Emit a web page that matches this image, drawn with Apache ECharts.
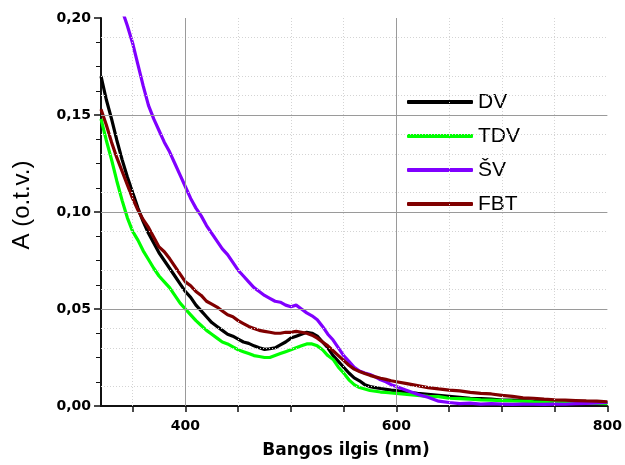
<!DOCTYPE html>
<html>
<head>
<meta charset="utf-8">
<script src="https://cdn.jsdelivr.net/npm/echarts@6/dist/echarts.min.js"></script>
<style>html,body{margin:0;padding:0;background:#fff;}#c{width:625px;height:465px;}</style>
</head>
<body>
<div id="c"></div>
<script>
// Wavelength (nm)
const wavelength = [320,325,330,335,340,345,350,355,360,365,370,375,380,385,390,395,400,405,410,415,420,425,430,435,440,445,450,455,460,465,470,475,480,485,490,495,500,505,510,515,520,525,530,535,540,545,550,555,560,565,570,575,580,585,590,595,600,610,620,630,640,650,660,670,680,690,700,710,720,730,740,750,760,770,780,790,800];
const seriesNames = ['DV','TDV','ŠV','FBT'];
const dv  = [0.170,0.158,0.148,0.137,0.127,0.118,0.110,0.102,0.095,0.089,0.084,0.079,0.075,0.071,0.067,0.063,0.059,0.056,0.052,0.049,0.046,0.043,0.041,0.039,0.037,0.036,0.0345,0.033,0.0323,0.031,0.030,0.0292,0.0295,0.030,0.0315,0.033,0.035,0.036,0.037,0.038,0.0375,0.036,0.033,0.030,0.026,0.023,0.020,0.017,0.0145,0.013,0.011,0.010,0.0095,0.009,0.0086,0.0082,0.0079,0.0072,0.0065,0.006,0.0055,0.005,0.0045,0.004,0.0038,0.0035,0.003,0.003,0.0028,0.0025,0.0025,0.0022,0.002,0.0022,0.002,0.0018,0.0018];
const tdv = [0.148,0.137,0.127,0.116,0.106,0.097,0.090,0.0855,0.080,0.0755,0.071,0.067,0.064,0.061,0.057,0.053,0.050,0.047,0.044,0.0415,0.039,0.037,0.035,0.033,0.032,0.0305,0.029,0.028,0.027,0.026,0.0255,0.025,0.025,0.026,0.027,0.028,0.029,0.030,0.031,0.032,0.032,0.031,0.029,0.026,0.024,0.020,0.017,0.0135,0.011,0.0095,0.0088,0.008,0.0076,0.0072,0.007,0.0067,0.0065,0.006,0.0055,0.005,0.0048,0.004,0.0038,0.0035,0.0032,0.003,0.0028,0.0026,0.0025,0.0022,0.002,0.002,0.0018,0.0016,0.0015,0.0014,0.0012];
const sv  = [0.245,0.234,0.223,0.213,0.204,0.196,0.187,0.176,0.165,0.155,0.148,0.142,0.136,0.131,0.125,0.119,0.113,0.107,0.102,0.098,0.093,0.089,0.085,0.081,0.078,0.074,0.070,0.067,0.064,0.061,0.059,0.057,0.0555,0.054,0.0535,0.052,0.0512,0.052,0.050,0.048,0.0465,0.0445,0.041,0.037,0.034,0.030,0.026,0.023,0.020,0.018,0.017,0.0162,0.015,0.0135,0.0125,0.011,0.010,0.008,0.006,0.0045,0.0025,0.0018,0.0012,0.0015,0.001,0.0012,0.001,0.0008,0.001,0.0009,0.0008,0.001,0.0009,0.0012,0.0014,0.0016,0.0018];
const fbt = [0.153,0.145,0.136,0.128,0.121,0.114,0.107,0.101,0.096,0.092,0.087,0.082,0.0795,0.076,0.072,0.068,0.064,0.062,0.059,0.057,0.054,0.0525,0.051,0.049,0.047,0.046,0.044,0.0425,0.041,0.040,0.039,0.0385,0.038,0.0375,0.0375,0.038,0.038,0.0385,0.038,0.0375,0.0365,0.035,0.033,0.031,0.0285,0.026,0.0235,0.021,0.019,0.0178,0.0168,0.0158,0.015,0.0143,0.0137,0.013,0.0125,0.0115,0.0105,0.0095,0.0088,0.0082,0.0078,0.007,0.0065,0.0062,0.0055,0.005,0.0042,0.004,0.0035,0.0032,0.003,0.0028,0.0026,0.0025,0.0022];
const seriesColors = ['#000000','#00ff00','#8000ff','#800000'];
// Axis ticks / labels
const xTickValues = [350,400,450,500,550,600,650,700,750,800];
const xLabelValues = [400,600,800];
const xMajorGrid = [400,600];
const xMinorGrid = [350,450,500,550,650,700,750];
const yMajorGrid = [0.05,0.10,0.15];
const yMinorGrid = [0.0125,0.025,0.0375,0.0625,0.075,0.0875,0.1125,0.125,0.1375,0.1625,0.175,0.1875];

const chart = echarts.init(document.getElementById('c'), null, {renderer:'canvas'});
const allSeries = [dv, tdv, sv, fbt];
const lineSeries = seriesNames.map((n,i)=>({
  name:n, type:'line', z:3, symbol:'none', showSymbol:false, clip:true,
  lineStyle:{color:seriesColors[i], width:3.2}, itemStyle:{color:seriesColors[i]},
  data: wavelength.map((w,k)=>[w, allSeries[i][k]])
}));
const gridLines = [];
xMinorGrid.forEach(v=>gridLines.push({xAxis:v, lineStyle:{color:'#d4d4d4', type:[1,2], width:1}}));
yMinorGrid.forEach(v=>gridLines.push({yAxis:v, lineStyle:{color:'#d4d4d4', type:[1,2], width:1}}));
xMajorGrid.forEach(v=>gridLines.push({xAxis:v, lineStyle:{color:'#9a9a9a', type:'solid', width:1}}));
yMajorGrid.forEach(v=>gridLines.push({yAxis:v, lineStyle:{color:'#9a9a9a', type:'solid', width:1}}));

const tickFont = {fontFamily:'DejaVu Sans', fontWeight:'bold', fontSize:14, color:'#000'};
chart.setOption({
  animation:false,
  backgroundColor:'#fff',
  grid:{left:101, right:15, top:18, bottom:59, containLabel:false},
  legend:{
    data:seriesNames, orient:'vertical', left:402, top:80, padding:[10,8,8,5],
    itemWidth:66, itemHeight:4, itemGap:10, icon:'roundRect', selectedMode:false,
    backgroundColor:'#fff',
    textStyle:{fontFamily:'Liberation Sans, Arial', fontSize:21, color:'#000', lineHeight:24}
  },
  xAxis:{
    type:'value', min:320, max:800,
    axisLine:{show:true, onZero:false, lineStyle:{color:'#111', width:2}},
    axisTick:{show:true, inside:false, length:6, customValues:xTickValues, lineStyle:{color:'#111', width:1.5}},
    axisLabel:Object.assign({customValues:xLabelValues, margin:13}, tickFont),
    splitLine:{show:false}
  },
  yAxis:{
    type:'value', min:0, max:0.2, interval:0.05,
    axisLine:{show:true, onZero:false, lineStyle:{color:'#111', width:2}},
    axisTick:{show:true, inside:false, length:7, lineStyle:{color:'#111', width:1.5}},
    minorTick:{show:true, splitNumber:4, length:5, lineStyle:{color:'#111', width:1}},
    axisLabel:Object.assign({margin:10, formatter:v=>v.toFixed(2).replace('.',',')}, tickFont),
    splitLine:{show:false}
  },
  graphic:[
    {type:'text', x:346, y:451, style:{text:'Bangos ilgis (nm)', font:'bold 17px "DejaVu Sans"', fill:'#000', textAlign:'center', textVerticalAlign:'middle'}},
    {type:'text', x:22, y:205, rotation:Math.PI/2, style:{text:'A (o.t.v.)', font:'24px "Liberation Sans", Arial', fill:'#000', textAlign:'center', textVerticalAlign:'middle'}}
  ],
  series:[{
    name:'grid', type:'line', z:1, symbol:'none', silent:true, data:[[320,0]], lineStyle:{opacity:0},
    markLine:{silent:true, symbol:['none','none'], label:{show:false}, animation:false, data:gridLines}
  }].concat(lineSeries)
});
</script>
</body>
</html>
